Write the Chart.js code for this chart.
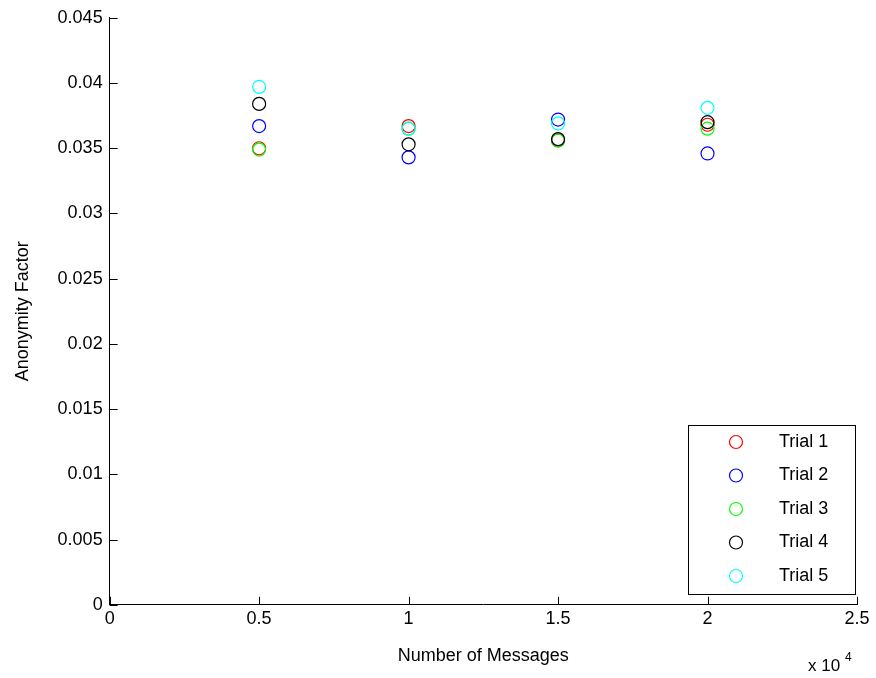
<!DOCTYPE html>
<html>
<head>
<meta charset="utf-8">
<script src="https://cdn.jsdelivr.net/npm/chart.js@4/dist/chart.umd.min.js"></script>
<style>
  body { margin: 0; background: #fff; }
  #wrap { width: 876px; height: 678px; }
</style>
</head>
<body>
<div id="wrap"><canvas id="myChart" width="876" height="678"></canvas></div>
<script>
// number of messages (x 10^4)
var messages = [0.5, 1, 1.5, 2];
var trial1 = [0.0350, 0.0367, 0.0356, 0.0368];
var trial2 = [0.0367, 0.0343, 0.0372, 0.0346];
var trial3 = [0.0349, 0.0365, 0.0356, 0.0365];
var trial4 = [0.0384, 0.0353, 0.0357, 0.0370];
var trial5 = [0.0397, 0.0365, 0.0369, 0.0381];
var trialNames = ['Trial 1', 'Trial 2', 'Trial 3', 'Trial 4', 'Trial 5'];
var trialColors = ['#ff0000', '#0000ff', '#00ff00', '#000000', '#00ffff'];
var xTicks = [0, 0.5, 1, 1.5, 2, 2.5];
var yTicks = [0, 0.005, 0.01, 0.015, 0.02, 0.025, 0.03, 0.035, 0.04, 0.045];

var FONT = 'Liberation Sans, Arial, sans-serif';

function toPoints(ys){
  return messages.map((x, i)=> ({x: x, y: ys[i]}));
}

var datasets = [trial1, trial2, trial3, trial4, trial5].map((ys, i)=> ({
  label: trialNames[i],
  data: toPoints(ys),
  borderColor: trialColors[i],
  backgroundColor: 'rgba(0,0,0,0)',
  pointRadius: 6.5,
  pointBorderWidth: 1.2,
  pointHoverRadius: 6.5,
  order: 5 - i
}));

// matlab style inward ticks, legend box and exponent label
var matlabBits = {
  id: 'matlabBits',
  afterDatasetsDraw(chart){
    var ctx = chart.ctx, xs = chart.scales.x, ys = chart.scales.y;
    var a = chart.chartArea;
    ctx.save();
    ctx.strokeStyle = '#000';
    ctx.lineWidth = 1;
    ctx.beginPath();
    xTicks.forEach((v)=>{
      var px = Math.round(xs.getPixelForValue(v)) + 0.5;
      ctx.moveTo(px, a.bottom); ctx.lineTo(px, a.bottom - 8);
    });
    yTicks.forEach((v)=>{
      var py = Math.round(ys.getPixelForValue(v)) + 0.5;
      ctx.moveTo(a.left, py); ctx.lineTo(a.left + 8, py);
    });
    ctx.stroke();

    // legend
    var lx = 688.5, ly = 425.5, lw = 167, lh = 169;
    ctx.fillStyle = '#fff';
    ctx.fillRect(lx, ly, lw, lh);
    ctx.strokeRect(lx, ly, lw, lh);
    ctx.font = '18px ' + FONT;
    ctx.textBaseline = 'middle';
    ctx.textAlign = 'left';
    chart.data.datasets.forEach((ds, i)=>{
      var cy = 442 + i * 33.5;
      ctx.beginPath();
      ctx.strokeStyle = ds.borderColor;
      ctx.lineWidth = 1.2;
      ctx.arc(736, cy, 6.5, 0, Math.PI * 2);
      ctx.stroke();
      ctx.fillStyle = '#000';
      ctx.fillText(ds.label, 779, cy);
    });

    // x 10^4
    ctx.fillStyle = '#000';
    ctx.font = '17px ' + FONT;
    ctx.textBaseline = 'alphabetic';
    ctx.fillText('x 10', 808, 671);
    ctx.font = '12px ' + FONT;
    ctx.fillText('4', 845, 661);
    ctx.restore();
  }
};

var chart = new Chart(document.getElementById('myChart').getContext('2d'), {
  type: 'scatter',
  data: { datasets: datasets },
  options: {
    responsive: false,
    animation: false,
    devicePixelRatio: 1,
    layout: { padding: { top: 14, right: 19, bottom: 0, left: 12 } },
    plugins: {
      legend: { display: false },
      tooltip: { enabled: false }
    },
    scales: {
      x: {
        type: 'linear',
        min: 0, max: 2.5,
        afterBuildTicks: (s)=>{ s.ticks = xTicks.map((v)=> ({value: v})); },
        grid: { display: false, drawTicks: false },
        border: { display: true, color: '#000', width: 1 },
        ticks: {
          color: '#000', padding: 3,
          font: { family: FONT, size: 18 },
          callback: (v)=> String(Number(v.toFixed(2)))
        },
        title: {
          display: true, text: 'Number of Messages', color: '#000',
          font: { family: FONT, size: 18 }, padding: { top: 13, bottom: 11 }
        }
      },
      y: {
        type: 'linear',
        min: 0, max: 0.045,
        afterBuildTicks: (s)=>{ s.ticks = yTicks.map((v)=> ({value: v})); },
        grid: { display: false, drawTicks: false },
        border: { display: true, color: '#000', width: 1 },
        ticks: {
          color: '#000', padding: 7,
          font: { family: FONT, size: 18 },
          callback: (v)=> String(Number(v.toFixed(3)))
        },
        title: {
          display: true, text: 'Anonymity Factor', color: '#000',
          font: { family: FONT, size: 18 }, padding: { top: 0, bottom: 17 }
        }
      }
    }
  },
  plugins: [matlabBits]
});
</script>
</body>
</html>
